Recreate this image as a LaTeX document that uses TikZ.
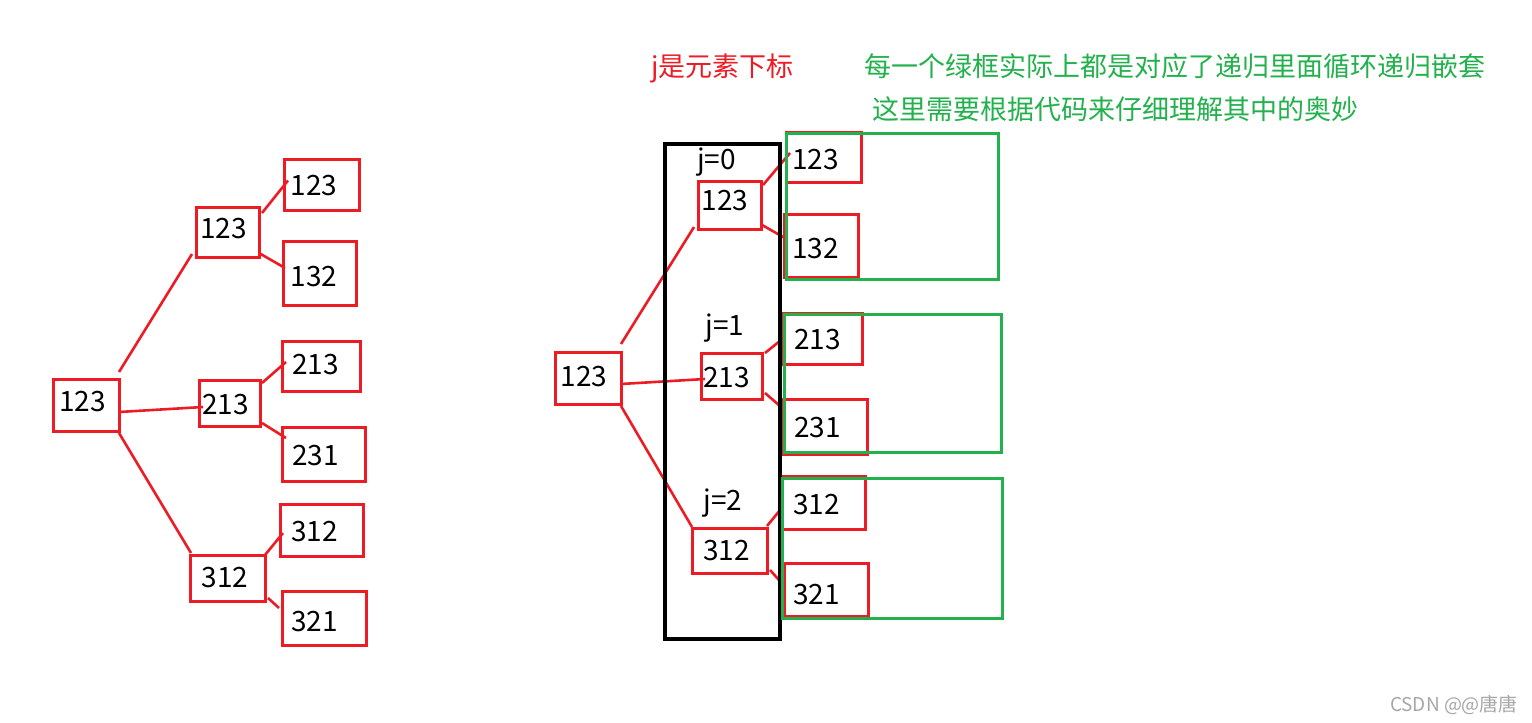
\documentclass[tikz,border=0pt]{standalone}
\usepackage{fontspec}
\setmainfont{Noto Sans CJK SC}
\usetikzlibrary{fit,calc}
\definecolor{pred}{HTML}{ED1C24}
\definecolor{pgreen}{HTML}{22B14C}
\definecolor{wmgray}{HTML}{A6A6A6}
\tikzset{
  rbox/.style={draw=pred, line width=1.5pt, inner sep=0pt, outer sep=0pt},
  gbox/.style={draw=pgreen, line width=1.5pt, inner sep=0pt, outer sep=0pt},
  kbox/.style={draw=black, line width=2pt, inner sep=0pt, outer sep=0pt},
  num/.style={anchor=base west, inner sep=0pt, outer sep=0pt, font=\fontsize{14}{16}\selectfont},
  cjktxt/.style={anchor=base west, inner sep=0pt, outer sep=0pt, font=\fontsize{13.5}{16}\selectfont},
  wmark/.style={anchor=base west, inner sep=0pt, outer sep=0pt, text=wmgray, font=\fontsize{9.5}{11}\selectfont},
  link/.style={draw=pred, line width=1.3pt},
}
\begin{document}
\begin{tikzpicture}[x=0.5pt,y=-0.5pt]
\useasboundingbox (0,0) rectangle (1532,723);

% ---------- left tree ----------
\node[rbox, fit={(53,379) (119,431)}] (r) {};
\node[rbox, fit={(196,207) (259,257)}] (m1) {};
\node[rbox, fit={(199,380) (260,426)}] (m2) {};
\node[rbox, fit={(190,555) (265,601)}] (m3) {};
\node[rbox, fit={(284,159) (359,210)}] (l1) {};
\node[rbox, fit={(283,241) (356,305)}] (l2) {};
\node[rbox, fit={(282,341) (360,391)}] (l3) {};
\node[rbox, fit={(282,427) (365,481)}] (l4) {};
\node[rbox, fit={(280,504) (363,556)}] (l5) {};
\node[rbox, fit={(282,591) (366,645)}] (l6) {};

\node[num] (r-t)  at (59,411.7)  {123};
\node[num] (m1-t) at (200,238.3) {123};
\node[num] (m2-t) at (202.3,414.3) {213};
\node[num] (m3-t) at (201.7,587.7) {312};
\node[num] (l1-t) at (290.7,195.7) {123};
\node[num] (l2-t) at (290.7,286) {132};
\node[num] (l3-t) at (292.3,374.3) {213};
\node[num] (l4-t) at (292.3,465) {231};
\node[num] (l5-t) at (291.3,541) {312};
\node[num] (l6-t) at (291.3,631.7) {321};

\draw[link] ($(r.north east)+(0,-7)$) -- ($(m1.south west)+(-4,-3)$);
\draw[link] ($(r.east)+(0,7)$) -- ($(m2.west)+(4,4)$);
\draw[link] ($(r.south east)+(0,2)$) -- ($(m3.north west)+(1,-2)$);
\draw[link] ($(m1.north east)+(3,6)$) -- ($(l1.west)+(4,-4)$);
\draw[link] ($(m1.south east)+(0,-4)$) -- ($(l2.west)+(2,-5)$);
\draw[link] ($(m2.north east)+(2,3)$) -- ($(l3.west)+(4,-4)$);
\draw[link] ($(m2.south east)+(2,-3)$) -- ($(l4.west)+(4,-16)$);
\draw[link] (m3.north east) -- ($(l5.west)+(3,3)$);
\draw[link] ($(m3.south east)+(3,-3)$) -- ($(l6.west)+(-3,-10)$);

% ---------- right tree ----------
\node[rbox, fit={(555,352) (621,404)}] (R) {};
\node[rbox, fit={(698,181) (761,229)}] (J0) {};
\node[rbox, fit={(701,353) (762,399)}] (J1) {};
\node[rbox, fit={(692,528) (767,573)}] (J2) {};
\node[rbox, fit={(786,132) (861,182)}] (RL1) {};
\node[rbox, fit={(784,214) (858,277)}] (RL2) {};
\node[rbox, fit={(783,313) (862,364)}] (RL3) {};
\node[rbox, fit={(783,399) (867,454)}] (RL4) {};
\node[rbox, fit={(782,476) (865,529)}] (RL5) {};
\node[rbox, fit={(784,563) (868,616)}] (RL6) {};

\node[num] (R-t)   at (560.7,386)   {123};
\node[num] (J0-t)  at (701.7,210.7) {123};
\node[num] (J1-t)  at (703.3,387.3) {213};
\node[num] (J2-t)  at (703.3,560.7) {312};
\node[num] (RL1-t) at (792.3,169.3) {123};
\node[num] (RL2-t) at (792.3,258.3) {132};
\node[num] (RL3-t) at (794,349)     {213};
\node[num] (RL4-t) at (794,437.7)   {231};
\node[num] (RL5-t) at (793.3,514)   {312};
\node[num] (RL6-t) at (793.3,604)   {321};

\node[num] (jl0) at (697,169.3) {j=0};
\node[num] (jl1) at (705.7,335) {j=1};
\node[num] (jl2) at (703.3,510) {j=2};

\draw[link] ($(R.north east)+(0,-8)$) -- ($(J0.south west)+(-4,-2)$);
\draw[link] ($(R.east)+(0,6)$) -- ($(J1.west)+(4,3)$);
\draw[link] ($(R.south east)+(0,2)$) -- ($(J2.north west)+(0,-1)$);
\draw[link] ($(J0.north east)+(2,4)$) -- ($(RL1.west)+(4,-4)$);
\draw[link] ($(J0.south east)+(1,-4)$) -- ($(RL2.west)+(0,-8)$);
\draw[link] ($(J1.north east)+(3,0)$) -- (RL3.west);
\draw[link] ($(J1.south east)+(3,-6)$) -- ($(RL4.west)+(1,-17)$);
\draw[link] ($(J2.north east)+(0,-2)$) -- ($(RL5.west)+(1,4)$);
\draw[link] ($(J2.south east)+(3,-3)$) -- ($(RL6.west)+(-5,-9.5)$);

% black loop box
\node[kbox, fit={(665,144) (780,639)}] (loop) {};

% green boxes
\node[gbox, fit={(786,133) (998,279)}] (G1) {};
\node[gbox, fit={(784,314) (1001,452)}] (G2) {};
\node[gbox, fit={(782,478) (1002,618)}] (G3) {};

% headings
\node[cjktxt, text=pred] (h1) at (651,76) {j是元素下标};
\node[cjktxt, text=pgreen] (h2) at (864,76) {每一个绿框实际上都是对应了递归里面循环递归嵌套};
\node[cjktxt, text=pgreen] (h3) at (872.5,119.5) {这里需要根据代码来仔细理解其中的奥妙};

% watermark
\node[wmark] (wm) at (1390,711) {CSDN @@唐唐};
\end{tikzpicture}
\end{document}
